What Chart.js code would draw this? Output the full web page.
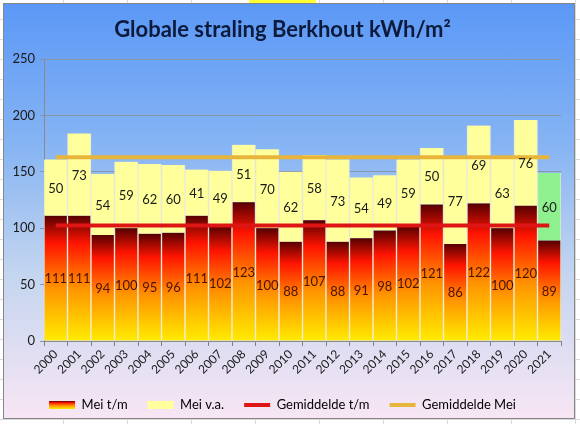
<!DOCTYPE html>
<html>
<head>
<meta charset="utf-8">
<script src="https://cdn.jsdelivr.net/npm/chart.js@4/dist/chart.umd.min.js"></script>
<style>
  html, body { margin: 0; padding: 0; }
  body {
    width: 580px; height: 424px; overflow: hidden; position: relative;
    background-color: #fff;
    background-image:
      repeating-linear-gradient(to right, transparent 0 63px, #d9d9d9 63px 64px),
      repeating-linear-gradient(to bottom, transparent 0 19px, #d9d9d9 19px 20px);
  }
  .cell { position: absolute; left: 249px; top: 0; width: 67px; height: 3px; background: #ffff33; }
  .frame {
    position: absolute; left: 3px; top: 3px; width: 572px; height: 416px;
    box-sizing: border-box; border: 1px solid #868686;
    background: linear-gradient(to bottom, #5b98f6 0%, #88b5f3 35%, #c3d5ef 65%, #f8e6f4 100%);
  }
  .box { position: relative; width: 570px; height: 414px; }
</style>
</head>
<body>
<div class="cell"></div>
<div class="frame"><div class="box"><canvas id="chart"></canvas></div></div>
<script>
// data
const years = ['2000', '2001', '2002', '2003', '2004', '2005', '2006', '2007', '2008', '2009', '2010',
  '2011', '2012', '2013', '2014', '2015', '2016', '2017', '2018', '2019', '2020', '2021'];
const meiTm = [111, 111, 94, 100, 95, 96, 111, 102, 123, 100, 88, 107, 88, 91, 98, 102, 121, 86, 122, 100, 120, 89];
const meiVa = [50, 73, 54, 59, 62, 60, 41, 49, 51, 70, 62, 58, 73, 54, 49, 59, 50, 77, 69, 63, 76, 60];
const gemTm = [102.5, 102.5, 102.5, 102.5, 102.5, 102.5, 102.5, 102.5, 102.5, 102.5, 102.5,
  102.5, 102.5, 102.5, 102.5, 102.5, 102.5, 102.5, 102.5, 102.5, 102.5, 102.5];
const gemMei = [163, 163, 163, 163, 163, 163, 163, 163, 163, 163, 163,
  163, 163, 163, 163, 163, 163, 163, 163, 163, 163, 163];
const yTicks = [0, 50, 100, 150, 200, 250];
const currentYear = '2021';

const FONT = 'Lato, "Open Sans", sans-serif';

// red-to-yellow fill, one gradient per bar
function fireGradient(ctx, top, bottom) {
  const g = ctx.createLinearGradient(0, top, 0, bottom);
  g.addColorStop(0, '#560000');
  g.addColorStop(0.22, '#ff1400');
  g.addColorStop(0.58, '#ff9400');
  g.addColorStop(1, '#ffec00');
  return g;
}

function tmFill(context) {
  const chart = context.chart;
  const y = chart.scales.y;
  if (!y || !chart.chartArea || context.dataIndex === undefined) return '#ff5000';
  return fireGradient(chart.ctx, y.getPixelForValue(meiTm[context.dataIndex]), y.getPixelForValue(0));
}

function vaFill(context) {
  return years[context.dataIndex] === currentYear ? '#8ff08f' : '#ffff9c';
}

// numbers in the middle of each bar part
const valueLabels = {
  id: 'valueLabels',
  afterDatasetsDraw(chart) {
    const ctx = chart.ctx;
    ctx.save();
    ctx.font = '13px ' + FONT;
    ctx.textAlign = 'center';
    ctx.textBaseline = 'middle';
    chart.data.datasets.forEach((ds, i) => {
      if (ds.type !== 'bar') return;
      ctx.fillStyle = ds.labelColor;
      chart.getDatasetMeta(i).data.forEach((el, j) => {
        const p = el.getCenterPoint();
        ctx.fillText(String(ds.data[j]), p.x, p.y + 1);
      });
    });
    ctx.restore();
  }
};

// legend swatches: gradient box, plain box, and line strokes
const legendSwatches = {
  id: 'legendSwatches',
  afterDraw(chart) {
    const lg = chart.legend;
    if (!lg || !lg.legendHitBoxes) return;
    const opts = lg.options.labels;
    const ctx = chart.ctx;
    ctx.save();
    lg.legendHitBoxes.forEach((hb, i) => {
      const ds = chart.data.datasets[i];
      const top = hb.top + Math.max((13 - opts.boxHeight) / 2, 0);
      if (ds.type === 'bar') {
        ctx.fillStyle = i === 0 ? fireGradient(ctx, top, top + opts.boxHeight) : '#ffff9c';
        ctx.fillRect(hb.left, top, opts.boxWidth, opts.boxHeight);
      } else {
        ctx.fillStyle = ds.borderColor;
        ctx.fillRect(hb.left, top + opts.boxHeight / 2 - 2, opts.boxWidth, 4);
      }
    });
    ctx.restore();
  }
};

const config = {
  data: {
    labels: years,
    datasets: [
      {
        type: 'bar', label: 'Mei t/m', data: meiTm, stack: 'mei', order: 1,
        backgroundColor: tmFill, labelColor: '#4a1200',
        borderColor: 'rgba(245,240,215,0.85)', borderWidth: { left: 1, right: 1, top: 0, bottom: 0 },
        borderSkipped: false, barPercentage: 1, categoryPercentage: 1
      },
      {
        type: 'bar', label: 'Mei v.a.', data: meiVa, stack: 'mei', order: 1,
        backgroundColor: vaFill, labelColor: '#1a1a1a',
        borderColor: 'rgba(245,240,215,0.85)', borderWidth: { left: 1, right: 1, top: 0, bottom: 0 },
        borderSkipped: false, barPercentage: 1, categoryPercentage: 1
      },
      {
        type: 'line', label: 'Gemiddelde t/m', data: gemTm, stack: 'gtm', order: 0,
        borderColor: '#dd1515', borderWidth: 4, pointRadius: 0, fill: false
      },
      {
        type: 'line', label: 'Gemiddelde Mei', data: gemMei, stack: 'gmei', order: 0,
        borderColor: '#e7b53c', borderWidth: 4, pointRadius: 0, fill: false
      }
    ]
  },
  options: {
    responsive: true,
    maintainAspectRatio: false,
    animation: false,
    layout: { padding: { left: 0, right: 13, top: 0, bottom: -3.5 } },
    scales: {
      x: {
        stacked: true,
        afterFit: (s) => { s.height = 37.5; },
        grid: { drawOnChartArea: false, drawTicks: true, tickLength: 5, offset: true, color: '#7f7f7f' },
        border: { color: '#8a8a8a' },
        ticks: { minRotation: 45, maxRotation: 45, autoSkip: false, padding: 1, color: '#1a1a1a', font: { family: FONT, size: 12 } }
      },
      y: {
        stacked: true,
        min: 0,
        max: 250,
        afterFit: (s) => { s.width = 40; },
        afterBuildTicks: (s) => { s.ticks = yTicks.map(v => ({ value: v })); },
        grid: { color: '#8796ab', tickLength: 4 },
        border: { color: '#8a8a8a' },
        ticks: { padding: 5, color: '#1a1a1a', font: { family: FONT, size: 13 } }
      }
    },
    plugins: {
      title: {
        display: true,
        text: 'Globale straling Berkhout kWh/m²',
        color: '#0c1a3c',
        font: { family: FONT, size: 22, weight: 'bold' },
        padding: { top: 13, bottom: 15.6 }
      },
      legend: {
        position: 'bottom',
        labels: {
          boxWidth: 26,
          boxHeight: 8,
          padding: 20,
          color: '#1a1a1a',
          font: { family: FONT, size: 13 },
          generateLabels: (chart) => chart.data.datasets.map((ds, i) => ({
            text: ds.label, datasetIndex: i, hidden: false,
            fillStyle: 'rgba(0,0,0,0)', strokeStyle: 'rgba(0,0,0,0)', lineWidth: 0
          }))
        }
      },
      tooltip: { enabled: false }
    }
  },
  plugins: [valueLabels, legendSwatches]
};

new Chart(document.getElementById('chart'), config);
</script>
</body>
</html>
